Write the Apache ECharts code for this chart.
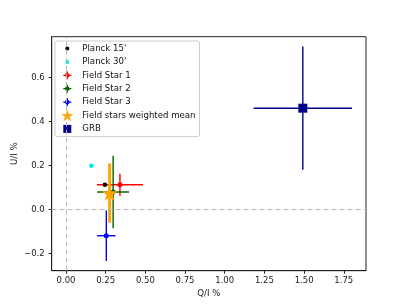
<!DOCTYPE html>
<html>
<head>
<meta charset="utf-8">
<script src="https://cdn.jsdelivr.net/npm/echarts@6/dist/echarts.min.js"></script>
<style>html,body{margin:0;padding:0;background:#fff}#chart{width:407px;height:305px}</style>
</head>
<body>
<div id="chart"></div>
<script>
// ---- data ----
// points: [Q/I, U/I]
var planck15 = [[0.245, 0.112]];
var planck30 = [[0.16, 0.198]];
// error-bar points: [Q/I, U/I, xerr, yerr]
var fieldStar1 = [[0.34, 0.112, 0.145, 0.05]];
var fieldStar2 = [[0.297, 0.079, 0.10, 0.165]];
var fieldStar3 = [[0.254, -0.12, 0.058, 0.115]];
var weightedMean = [[0.275, 0.074, 0.02, 0.135]];
var grb = [[1.492, 0.46, 0.31, 0.28]];
var refLinesX = [0];
var refLinesY = [0];
var xTicks = [0, 0.25, 0.5, 0.75, 1.0, 1.25, 1.5, 1.75];
var yTicks = [-0.2, 0, 0.2, 0.4, 0.6];
var seriesNames = ["Planck 15'", "Planck 30'", 'Field Star 1', 'Field Star 2', 'Field Star 3', 'Field stars weighted mean', 'GRB'];
var seriesColors = ['#000000', '#00e5ee', '#ff0000', '#006400', '#0000ff', '#ffa500', '#00008b'];

var FONT = 'DejaVu Sans';
var chart = echarts.init(document.getElementById('chart'), null, {renderer: 'canvas'});

function errSeries(name, data, color, lw) {
  return {
    type: 'custom', name: name, data: data, itemStyle: {color: color}, z: 2,
    encode: {x: 0, y: 1}, silent: true,
    renderItem: function (params, api) {
      var x = api.value(0), y = api.value(1), xe = api.value(2), ye = api.value(3);
      var a = api.coord([x - xe, y]), b = api.coord([x + xe, y]);
      var c = api.coord([x, y - ye]), d = api.coord([x, y + ye]);
      return {type: 'group', children: [
        {type: 'line', shape: {x1: a[0], y1: a[1], x2: b[0], y2: b[1]}, style: {stroke: color, lineWidth: lw}},
        {type: 'line', shape: {x1: c[0], y1: c[1], x2: d[0], y2: d[1]}, style: {stroke: color, lineWidth: lw}}
      ]};
    }
  };
}
function markSeries(name, data, color, symbol, size, z) {
  return {type: 'scatter', name: name, data: data.map(function (r) { return [r[0], r[1]]; }), z: z,
    symbol: symbol, symbolSize: size, itemStyle: {color: color, opacity: 1, borderWidth: 0}, silent: true};
}

// legend icons (18 x 13 box)
var BOX = 'M0,0M18,13';
function circleIcon(r) { return 'path://' + BOX + 'M' + (9 - r) + ',6.5a' + r + ',' + r + ' 0 1,1 ' + (2 * r) + ',0a' + r + ',' + r + ' 0 1,1 ' + (-2 * r) + ',0z'; }
var ebIcon = 'path://' + BOX + 'M5,5.85h8v1.3h-8z M8.35,2.5h1.3v8h-1.3z M6.7,6.5a2.3,2.3 0 1,1 4.6,0a2.3,2.3 0 1,1 -4.6,0z';
var starPath = (function () {
  var R = 6.5, r = R * 0.382, s = 'M';
  for (var i = 0; i < 10; i++) {
    var ang = -Math.PI / 2 + i * Math.PI / 5, rr = i % 2 ? r : R;
    s += (i ? 'L' : '') + (9 + rr * Math.cos(ang)).toFixed(2) + ',' + (7 + rr * Math.sin(ang)).toFixed(2);
  }
  return s + 'Z';
})();
var starIcon = 'path://' + BOX + starPath;
var sqIcon = 'path://' + BOX + 'M5,2.5h8v8h-8z';

var icons = [circleIcon(2), circleIcon(2), ebIcon, ebIcon, ebIcon, starIcon, sqIcon];

var axisCommon = {
  type: 'value',
  nameLocation: 'middle',
  nameMoveOverlap: false,
  nameTextStyle: {fontFamily: FONT, fontSize: 8.6, color: '#222'},
  axisLine: {show: true, onZero: false, lineStyle: {color: '#222', width: 1}},
  splitLine: {show: false}
};

var option = {
  animation: false,
  backgroundColor: '#fff',
  grid: {left: 51.7, right: 41, top: 36.7, bottom: 34.3, outerBoundsMode: 'none', containLabel: false,
    show: true, borderColor: '#222', borderWidth: 1, backgroundColor: 'transparent'},
  xAxis: Object.assign({}, axisCommon, {
    min: -0.09, max: 1.89, name: 'Q/I %', nameGap: 18.5,
    axisTick: {show: true, length: 3, lineStyle: {color: '#222'}, customValues: xTicks},
    axisLabel: {fontFamily: FONT, fontSize: 8.5, color: '#222', margin: 6, customValues: xTicks,
      formatter: function (v) { return v.toFixed(2); }}
  }),
  yAxis: Object.assign({}, axisCommon, {
    min: -0.279, max: 0.785, name: 'U/I %', nameGap: 32,
    axisTick: {show: true, length: 3, lineStyle: {color: '#222'}, customValues: yTicks},
    axisLabel: {fontFamily: FONT, fontSize: 8.5, color: '#222', margin: 7, customValues: yTicks,
      formatter: function (v) { return v.toFixed(1).replace('-', '\u2212'); }}
  }),
  legend: {
    orient: 'vertical', left: 55, top: 41,
    itemWidth: 18, itemHeight: 13, itemGap: 0.4,
    padding: [1, 4, 1, 3.3],
    borderColor: '#cccccc', borderWidth: 1, borderRadius: 2, backgroundColor: 'rgba(255,255,255,0.8)',
    textStyle: {fontFamily: FONT, fontSize: 8.6, color: '#111', padding: [0, 0, 0, 1]},
    data: seriesNames.map(function (n, i) {
      return {name: n, icon: icons[i], itemStyle: {color: seriesColors[i], borderWidth: 0, opacity: 1}};
    }),
    selectedMode: false
  },
  series: [
    {type: 'line', name: 'refLines', data: [], silent: true, itemStyle: {color: '#b8b8b8'}, z: 1,
      markLine: {silent: true, symbol: 'none', label: {show: false}, animation: false,
        lineStyle: {color: '#b8b8b8', type: [5, 3], width: 1, opacity: 1},
        data: refLinesX.map(function (v) { return {xAxis: v}; }).concat(refLinesY.map(function (v) { return {yAxis: v}; }))}},
    markSeries("Planck 15'", planck15, seriesColors[0], 'circle', 4.5, 2),
    markSeries("Planck 30'", planck30, seriesColors[1], 'circle', 4.5, 2),
    markSeries('Field Star 1', fieldStar1, seriesColors[2], 'circle', 5, 3),
    errSeries('Field Star 1', fieldStar1, seriesColors[2], 1.4),
    markSeries('Field Star 2', fieldStar2, seriesColors[3], 'circle', 5, 3),
    errSeries('Field Star 2', fieldStar2, seriesColors[3], 1.4),
    markSeries('Field Star 3', fieldStar3, seriesColors[4], 'circle', 5, 3),
    errSeries('Field Star 3', fieldStar3, seriesColors[4], 1.4),
    markSeries('Field stars weighted mean', weightedMean, seriesColors[5], 'path://' + starPath, 16, 4),
    errSeries('Field stars weighted mean', weightedMean, seriesColors[5], 3),
    markSeries('GRB', grb, seriesColors[6], 'rect', 9, 4),
    errSeries('GRB', grb, seriesColors[6], 1.4)
  ]
};
chart.setOption(option);
</script>
</body>
</html>
